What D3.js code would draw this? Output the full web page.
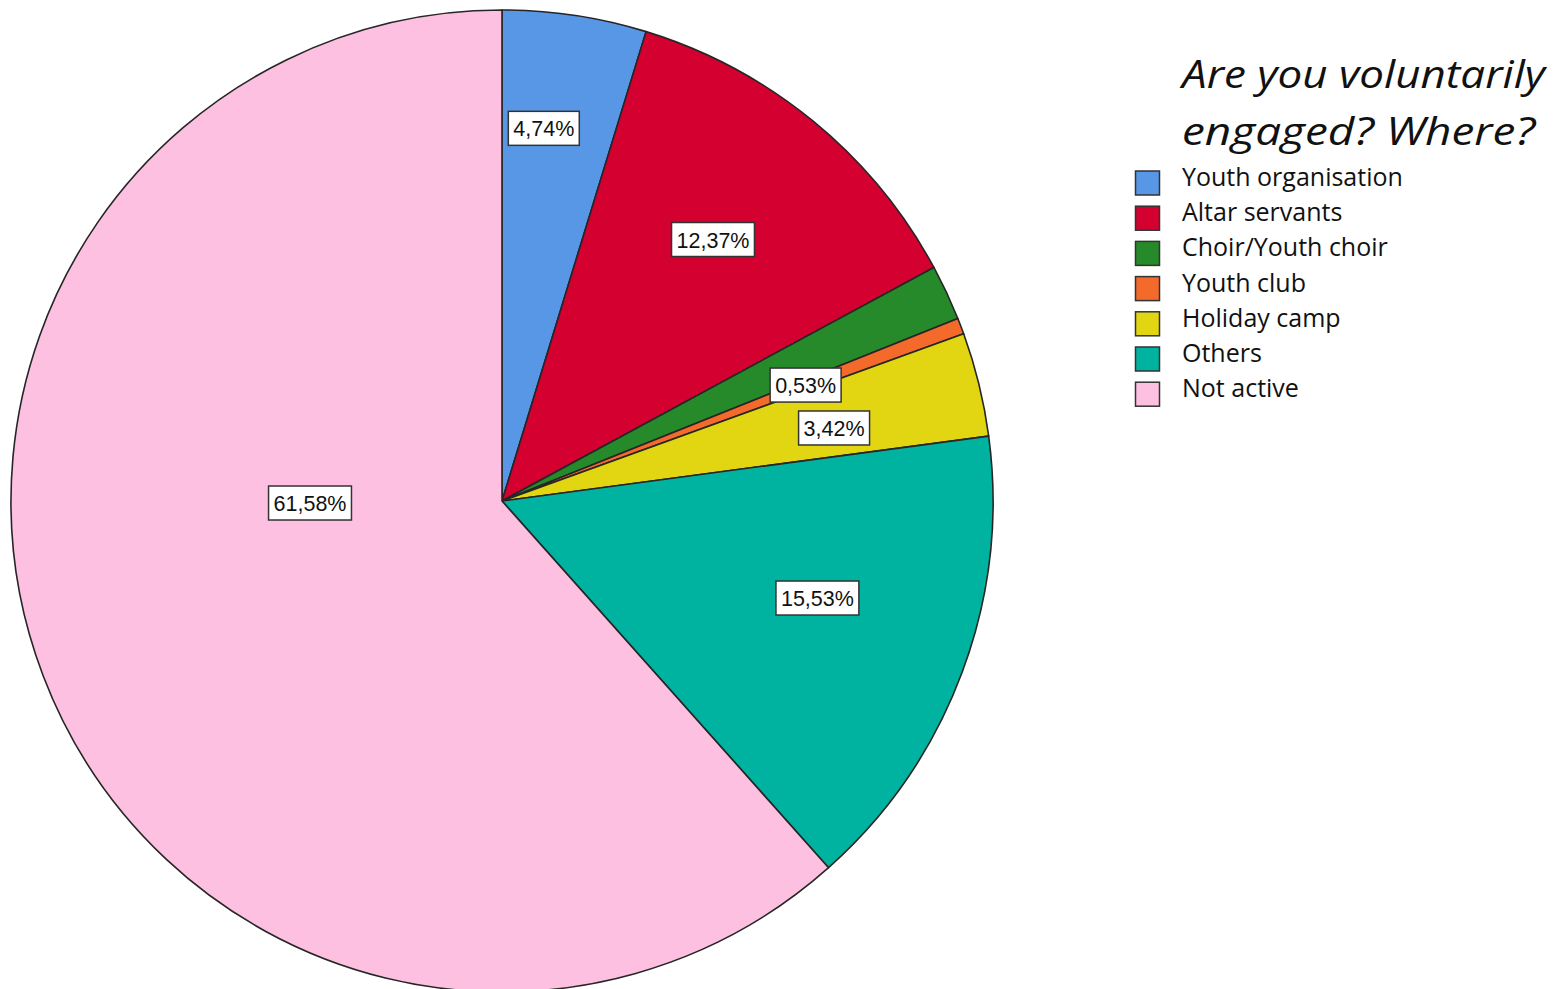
<!DOCTYPE html>
<html>
<head>
<meta charset="utf-8">
<script src="https://cdn.jsdelivr.net/npm/d3@7/dist/d3.min.js"></script>
<style>
  html, body { margin: 0; padding: 0; background: #fff; }
  svg { display: block; }
</style>
</head>
<body>
<svg id="chart" width="1567" height="989"></svg>
<script>
// ---- data ----
const categories = ["Youth organisation", "Altar servants", "Choir/Youth choir", "Youth club", "Holiday camp", "Others", "Not active"];
const percentages = [4.74, 12.37, 1.83, 0.53, 3.42, 15.53, 61.58];
const labelTexts = ["4,74%", "12,37%", null, "0,53%", "3,42%", "15,53%", "61,58%"];
const colors = ["#5797E5", "#D30030", "#278A2A", "#F36A2A", "#E2D612", "#00B2A0", "#FEC0E1"];
const titleLines = ["Are you voluntarily", "engaged? Where?"];

// ---- layout (label placement in polar terms: radius px, angle deg) ----
const labelPolar = [[375, 6.4], [336, 38.9], null, [325, 69.1], [340, 77.6], [330, 107.1], [192, 269.4]];
const titleWidths = [363, 353];

const svg = d3.select("#chart");
const cx = 502, cy = 501, R = 491;

const pie = d3.pie().sort(null).value(d => d.v)
  .startAngle(0).endAngle(2 * Math.PI);
const data = categories.map((c, i) => ({ c, v: percentages[i], i }));
const arcs = pie(data);
const arc = d3.arc().innerRadius(0).outerRadius(R);

const g = svg.append("g").attr("transform", `translate(${cx},${cy})`);
g.selectAll("path.slice").data(arcs).enter().append("path")
  .attr("class", "slice")
  .attr("d", arc)
  .attr("fill", d => colors[d.data.i])
  .attr("stroke", "#262626")
  .attr("stroke-width", 1.6)
  .attr("stroke-linejoin", "round");

// labels
const lab = g.selectAll("g.lab").data(arcs.filter(d => labelTexts[d.data.i]))
  .enter().append("g").attr("class", "lab")
  .attr("transform", d => {
    const p = labelPolar[d.data.i];
    const a = p[1] * Math.PI / 180;
    return `translate(${p[0] * Math.sin(a)},${-p[0] * Math.cos(a)})`;
  });
lab.each(function(d) {
  const sel = d3.select(this);
  const t = sel.append("text")
    .attr("text-anchor", "middle")
    .attr("dominant-baseline", "central")
    .attr("y", 1)
    .attr("font-family", "Liberation Sans, Arial, sans-serif")
    .attr("font-size", 21.5)
    .attr("fill", "#111")
    .text(labelTexts[d.data.i]);
  const bb = t.node().getBBox();
  const w = bb.width + 10, h = 34;
  sel.insert("rect", "text")
    .attr("x", -w / 2).attr("y", -h / 2)
    .attr("width", w).attr("height", h)
    .attr("fill", "#fff")
    .attr("stroke", "#333")
    .attr("stroke-width", 1.5);
});

// legend
const legend = svg.append("g");
legend.selectAll("text.title").data(titleLines).enter().append("text")
  .attr("class", "title")
  .attr("x", 1182)
  .attr("y", (d, i) => 88 + i * 57)
  .attr("font-family", "'Open Sans', Lato, sans-serif")
  .attr("font-style", "italic")
  .attr("font-size", 39)
  .attr("textLength", (d, i) => titleWidths[i])
  .attr("lengthAdjust", "spacingAndGlyphs")
  .attr("fill", "#111")
  .text(d => d);

const items = legend.selectAll("g.item").data(categories).enter().append("g")
  .attr("class", "item")
  .attr("transform", (d, i) => `translate(0,${183 + i * 35.2})`);
items.append("rect")
  .attr("x", 1135.5).attr("y", -12)
  .attr("width", 24).attr("height", 24)
  .attr("fill", (d, i) => colors[i])
  .attr("stroke", "#333")
  .attr("stroke-width", 1.5);
items.append("text")
  .attr("x", 1182).attr("y", 3)
  .attr("font-family", "'Open Sans', Lato, sans-serif")
  .attr("font-size", 25)
  .attr("fill", "#111")
  .text(d => d);
</script>
</body>
</html>
